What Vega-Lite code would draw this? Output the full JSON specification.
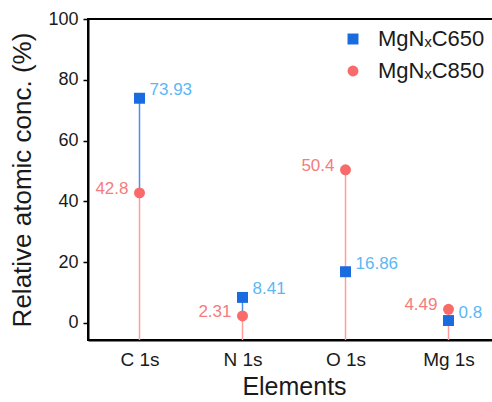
{
  "$schema": "https://vega.github.io/schema/vega-lite/v6.json",
  "autosize": {"type": "none"},
  "padding": {"left": 88, "top": 19, "right": 0, "bottom": 62},
  "width": 412,
  "height": 321,
  "background": "white",
  "config": {
    "font": "Liberation Sans",
    "view": {"stroke": "#000", "strokeWidth": 2},
    "axis": {"domainColor": "#000", "domainWidth": 2, "tickColor": "#000", "tickWidth": 1.5, "labelColor": "#1a1a1a", "titleColor": "#1a1a1a", "labelFont": "Liberation Sans", "titleFont": "Liberation Sans", "titleFontWeight": "normal", "grid": false}
  },
  "data": {"values": [
    {"element": "C 1s", "sample": "MgNₓC650", "value": 73.93, "label": "73.93"},
    {"element": "N 1s", "sample": "MgNₓC650", "value": 8.41, "label": "8.41"},
    {"element": "O 1s", "sample": "MgNₓC650", "value": 16.86, "label": "16.86"},
    {"element": "Mg 1s", "sample": "MgNₓC650", "value": 0.8, "label": "0.8"},
    {"element": "C 1s", "sample": "MgNₓC850", "value": 42.8, "label": "42.8"},
    {"element": "N 1s", "sample": "MgNₓC850", "value": 2.31, "label": "2.31"},
    {"element": "O 1s", "sample": "MgNₓC850", "value": 50.4, "label": "50.4"},
    {"element": "Mg 1s", "sample": "MgNₓC850", "value": 4.49, "label": "4.49"}
  ]},
  "encoding": {
    "x": {"field": "element", "type": "nominal", "sort": ["C 1s", "N 1s", "O 1s", "Mg 1s"],
      "scale": {"type": "point", "padding": 0.5},
      "axis": {"title": "Elements", "labelAngle": 0, "ticks": false, "labelFontSize": 19, "labelPadding": 10, "titleFontSize": 25, "titlePadding": 5}},
    "y": {"field": "value", "type": "quantitative",
      "scale": {"domain": [-5.6, 100], "nice": false, "zero": false},
      "axis": {"title": "Relative atomic conc. (%)", "values": [0, 20, 40, 60, 80, 100], "tickSize": 5, "labelFontSize": 18, "labelPadding": 5, "titleFontSize": 26, "titlePadding": 12}}
  },
  "layer": [
    {"transform": [{"joinaggregate": [{"op": "min", "field": "value", "as": "lowest"}], "groupby": ["element"]}, {"filter": "datum.sample === 'MgNₓC650'"}],
     "mark": {"type": "rule", "color": "#4a8ef0", "strokeWidth": 1.5},
     "encoding": {"y2": {"field": "lowest"}}},
    {"transform": [{"filter": "datum.sample === 'MgNₓC850'"}],
     "mark": {"type": "rule", "color": "#ff9c9c", "strokeWidth": 1.5},
     "encoding": {"y2": {"datum": -5.6}}},
    {"mark": {"type": "point", "filled": true, "opacity": 1, "size": 120},
     "encoding": {
       "color": {"field": "sample", "type": "nominal",
         "scale": {"domain": ["MgNₓC650", "MgNₓC850"], "range": ["#1a6ae0", "#f96b6b"]},
         "legend": {"title": null, "orient": "none", "legendX": 254, "legendY": 9, "labelFontSize": 22, "labelColor": "#1a1a1a", "symbolSize": 120, "rowPadding": 10, "labelOffset": 14, "symbolStrokeWidth": 0}},
       "shape": {"field": "sample", "type": "nominal",
         "scale": {"domain": ["MgNₓC650", "MgNₓC850"], "range": ["square", "circle"]}}
     }},
    {"transform": [{"filter": "datum.sample === 'MgNₓC650'"}],
     "mark": {"type": "text", "align": "left", "baseline": "middle", "dx": 10, "dy": -8, "fontSize": 17, "color": "#5ab8f5"},
     "encoding": {"text": {"field": "label"}}},
    {"transform": [{"filter": "datum.sample === 'MgNₓC850'"}],
     "mark": {"type": "text", "align": "right", "baseline": "middle", "dx": -11, "dy": -4, "fontSize": 17, "color": "#f47c7c"},
     "encoding": {"text": {"field": "label"}}}
  ]
}
